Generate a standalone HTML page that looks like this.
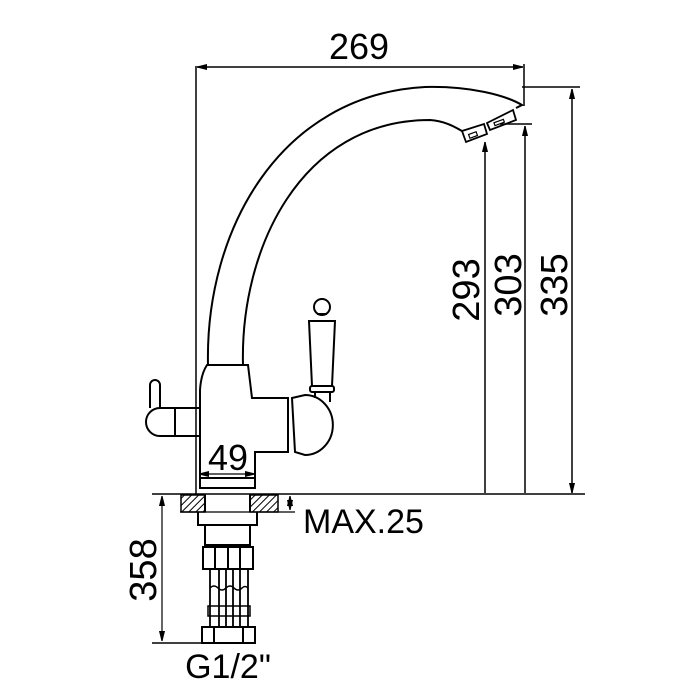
<!DOCTYPE html>
<html><head><style>
html,body{margin:0;padding:0;background:#fff;width:700px;height:700px;overflow:hidden}
text{font-family:"Liberation Sans",sans-serif;fill:#000}
</style></head><body>
<svg width="700" height="700" viewBox="0 0 700 700" xmlns="http://www.w3.org/2000/svg">
<defs>
<marker id="a" markerWidth="10" markerHeight="8" refX="10" refY="4" orient="auto-start-reverse" markerUnits="userSpaceOnUse"><path d="M0,1.5 L10,4 L0,6.5 Z" fill="#000" stroke="#000" stroke-width="1"/></marker>
<pattern id="h" width="5" height="5" patternUnits="userSpaceOnUse" patternTransform="rotate(45)"><line x1="0" y1="0" x2="0" y2="5" stroke="#000" stroke-width="2"/></pattern>
</defs>
<g fill="none" stroke="#000" stroke-width="2">
<line x1="196" y1="66" x2="196" y2="495" stroke-width="1.5"/>
<line x1="197" y1="67" x2="523" y2="67" stroke-width="1.5" marker-start="url(#a)" marker-end="url(#a)"/>
<line x1="524" y1="64" x2="524" y2="106" stroke-width="1.5"/>
<path d="M208,365 C205,230 280,95 425,87 C470,86 505,95 522,105 L516,108"/>
<path d="M243,365 C240,250 300,120 430,120 C445,121 455,127 462,131"/>
<path d="M462,131 L466,142 L487,134 L484,124 Z M487,123 L490,130 L516,120 L513,110 Z" stroke-width="1.8"/>
<rect x="469" y="133" width="8" height="4" stroke-width="1.2" transform="rotate(-20 473 135)"/>
<rect x="494" y="121" width="10" height="3" stroke-width="1.2" transform="rotate(-20 499 122)"/>
<path d="M207,365 L248,365 L252,398 L288,398 L288,452 L255,452 L255,488 L200,488 L200,390 Q201,374 207,365 Z"/>
<line x1="200" y1="478" x2="255" y2="478"/>
<path d="M292,398 L305,395 A26,28 0 0 1 305,455 L295,452 Z"/>
<path d="M200,408 L175,408 L175,436 L200,436"/>
<path d="M175,408 L160,408 A14,14 0 1 0 160,436 L175,436"/>
<path d="M150,408 L150,385 A5,5 0 0 1 160,385 L160,408"/>
<circle cx="322" cy="307" r="8"/>
<path d="M317,314 L327,314 M309,321 L335,321 L332,386 L312,386 Z"/>
<rect x="310" y="386" width="24" height="6" rx="2"/>
<path d="M315,392 L315,398 M330,392 L330,402"/>
<line x1="199" y1="474" x2="255" y2="474" stroke-width="1.2" marker-start="url(#a)" marker-end="url(#a)"/>
<line x1="152" y1="494" x2="585" y2="494" stroke-width="1.5"/>
<rect x="181" y="495" width="24" height="17" fill="url(#h)" stroke-width="1.5"/>
<rect x="250" y="495" width="28" height="17" fill="url(#h)" stroke-width="1.5"/>
<line x1="205" y1="495" x2="205" y2="512"/><line x1="250" y1="495" x2="250" y2="512"/>
<line x1="180" y1="512" x2="295" y2="512" stroke-width="1.2"/>
<path d="M198,512 L198,525 L257,525 L257,512 M205,525 L205,545 L250,545 L250,525"/>
<rect x="203" y="547" width="50" height="22"/>
<path d="M215,547 L215,569 M228,547 L228,569 M240,547 L240,569"/>
<path d="M210,569 L210,627 M219,569 L219,627 M226,569 L226,627 M233,569 L233,627 M240,569 L240,627 M248,569 L248,627" stroke-width="1.8"/>
<path d="M210,588 q4,-4 8,0 q4,4 8,0 q4,-4 8,0 q4,4 8,0 q3,-3 6,0" stroke-width="1.5"/>
<rect x="208" y="606" width="42" height="10" stroke-width="1.5"/>
<rect x="202" y="627" width="53" height="16"/>
<path d="M214,627 L214,643 M243,627 L243,643"/>
<line x1="152" y1="643" x2="255" y2="643" stroke-width="1.5"/>
<line x1="162" y1="496" x2="162" y2="641" stroke-width="1.2" marker-start="url(#a)" marker-end="url(#a)"/>
<line x1="290" y1="496" x2="290" y2="510" stroke-width="1.2" marker-start="url(#a)" marker-end="url(#a)"/>
<line x1="522" y1="87" x2="580" y2="87" stroke-width="1.5"/>
<line x1="572" y1="89" x2="572" y2="493" stroke-width="1.5" marker-start="url(#a)" marker-end="url(#a)"/>
<line x1="500" y1="124" x2="532" y2="124" stroke-width="1.5"/>
<line x1="525" y1="126" x2="525" y2="493" stroke-width="1.5" marker-start="url(#a)"/>
<line x1="485" y1="142" x2="485" y2="493" stroke-width="1.5" marker-start="url(#a)"/>
</g>
<text x="359" y="59" font-size="36" text-anchor="middle">269</text>
<text x="228" y="470" font-size="36" text-anchor="middle">49</text>
<text x="303" y="533" font-size="34">MAX.25</text>
<text x="228" y="678" font-size="34" text-anchor="middle">G1/2"</text>
<text transform="translate(156,570) rotate(-90)" font-size="38" text-anchor="middle">358</text>
<text transform="translate(479,290) rotate(-90)" font-size="38" text-anchor="middle">293</text>
<text transform="translate(521,285) rotate(-90)" font-size="38" text-anchor="middle">303</text>
<text transform="translate(567,285) rotate(-90)" font-size="38" text-anchor="middle">335</text>
</svg>
</body></html>
